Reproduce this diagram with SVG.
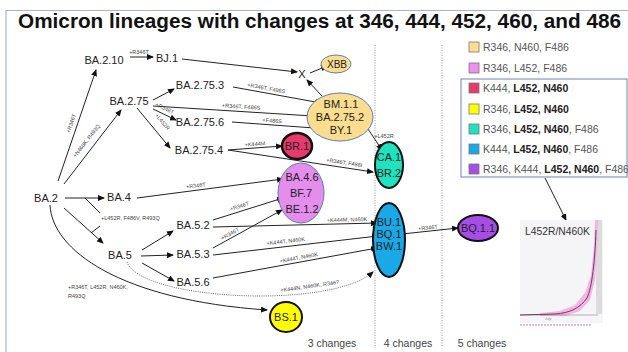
<svg xmlns="http://www.w3.org/2000/svg" width="628" height="352" viewBox="0 0 628 352">
<defs>
<marker id="ah" markerWidth="7" markerHeight="6" refX="6" refY="3" orient="auto" markerUnits="userSpaceOnUse">
<path d="M0,0 L7,3 L0,6 z" fill="#111"/>
</marker>
<style>
.n{font-family:"Liberation Sans",Arial,sans-serif;font-size:11px;fill:#222;text-anchor:middle}
.e{font-family:"Liberation Sans",Arial,sans-serif;font-size:5.5px;fill:#444;text-anchor:middle}
.l{font-family:"Liberation Sans",Arial,sans-serif;font-size:10.5px;fill:#555}
.l tspan.b{font-weight:bold;fill:#222}
.c{stroke:#222;stroke-width:1;fill:none}
.a{marker-end:url(#ah)}
.dv{stroke:#999;stroke-width:1;stroke-dasharray:1,1.5;fill:none}
.sw{stroke:#777;stroke-width:0.8}
.bottom{font-family:"Liberation Sans",Arial,sans-serif;font-size:10.5px;fill:#444;text-anchor:middle}
</style>
</defs>
<rect width="628" height="352" fill="#fff"/>
<path d="M6,352 V10.5 H628" fill="none" stroke="#A9B4CC" stroke-width="1.2"/>
<text x="18" y="28" font-family="Liberation Sans,Arial,sans-serif" font-size="19.5" font-weight="bold" fill="#111" textLength="603" lengthAdjust="spacingAndGlyphs">Omicron lineages with changes at 346, 444, 452, 460, and 486</text>

<g id="separators">
<line class="dv" x1="375" y1="45" x2="375" y2="348"/>
<line class="dv" x1="442" y1="45" x2="442" y2="346"/>
</g>

<g id="connectors">
<line class="c a" x1="58" y1="181" x2="96" y2="70"/>
<text class="e" transform="translate(73,124) rotate(-71)">+R346T</text>
<line class="c a" x1="64" y1="184" x2="121" y2="110"/>
<text class="e" transform="translate(88,142) rotate(-52)">+N460K, R493Q</text>
<line class="c a" x1="130" y1="57" x2="153" y2="57"/>
<text class="e" x="139" y="54">+R346T</text>
<line class="c a" x1="182" y1="59" x2="297" y2="72"/>
<line class="c a" x1="153" y1="100" x2="174" y2="89"/>
<line class="c a" x1="153" y1="106" x2="313" y2="116"/>
<text class="e" transform="translate(241,108.5) rotate(3.6)">+R346T, F486S</text>
<line class="c a" x1="153" y1="109" x2="176" y2="120"/>
<text class="e" transform="translate(164,110) rotate(25.6)">+R346T</text>
<line class="c a" x1="137" y1="108" x2="170" y2="148"/>
<text class="e" transform="translate(161,123) rotate(50.5)">+L452R</text>
<line class="c a" x1="233" y1="87" x2="321" y2="103"/>
<text class="e" transform="translate(266,90) rotate(10.3)">+R346T, F486S</text>
<line class="c a" x1="232" y1="122" x2="328" y2="129"/>
<text class="e" transform="translate(272,122.5) rotate(4.2)">+F486S</text>
<line class="c a" x1="228" y1="150" x2="282" y2="146"/>
<text class="e" transform="translate(255,146) rotate(-4)">+K444M</text>
<line class="c a" x1="228" y1="150" x2="373" y2="172"/>
<text class="e" transform="translate(344,164.5) rotate(8.6)">+R346T, F486I</text>
<line class="c a" x1="362" y1="120" x2="382" y2="150"/>
<text class="e" x="384" y="138">+L452R</text>
<line class="c a" x1="322" y1="96" x2="307" y2="80"/>
<line class="c a" x1="310" y1="73" x2="327" y2="66"/>
<line class="c a" x1="65" y1="198" x2="104" y2="198"/>
<line class="c a" x1="64" y1="208" x2="103" y2="243"/>
<path class="c" d="M85,198 L100,213 M91,233 L100,226"/>
<text class="e" x="101" y="220" style="text-anchor:start">+L452R, F486V, R493Q</text>
<line class="c a" x1="137" y1="198" x2="283" y2="179"/>
<text class="e" transform="translate(196,187.5) rotate(-7.4)">+R346T</text>
<line class="c a" x1="142" y1="250" x2="173" y2="231"/>
<line class="c a" x1="141" y1="256" x2="173" y2="255"/>
<line class="c a" x1="142" y1="263" x2="174" y2="281"/>
<line class="c a" x1="213" y1="220" x2="283" y2="198"/>
<text class="e" transform="translate(240,208) rotate(-17.4)">+R346T</text>
<line class="c a" x1="213" y1="227" x2="377" y2="223"/>
<text class="e" transform="translate(347,221.5) rotate(-1.4)">+K444M, N460K</text>
<line class="c a" x1="213" y1="248" x2="282" y2="210"/>
<text class="e" transform="translate(231,235.5) rotate(-28.8)">+R346T</text>
<line class="c a" x1="213" y1="255" x2="378" y2="236"/>
<text class="e" transform="translate(286,243) rotate(-6.6)">+K444T, N460K</text>
<line class="c a" x1="213" y1="278" x2="377" y2="248"/>
<text class="e" transform="translate(299,259.5) rotate(-10.4)">+K444T, N460K</text>
<path class="a" d="M127,262 C140,300 330,310 373,272" fill="none" stroke="#555" stroke-width="0.9" stroke-dasharray="1,1.2"/>
<text class="e" transform="translate(310,288) rotate(-8)">+K444N, N460K, R346?</text>
<path class="c a" d="M50,205 C52,250 120,300 267,310"/>
<text class="e" x="68" y="289" style="text-anchor:start">+R346T, L452R, N460K,</text>
<text class="e" x="68" y="298" style="text-anchor:start">R493Q</text>
<line class="c a" x1="402" y1="234" x2="458" y2="228"/>
<text class="e" transform="translate(428,229.5) rotate(-6)">+R346T</text>
<line class="c a" x1="545" y1="178" x2="566" y2="220"/>
</g>

<g id="BA.2.10"><text class="n" x="104" y="64">BA.2.10</text></g>
<g id="BJ.1"><text class="n" x="167" y="62">BJ.1</text></g>
<g id="BA.2.75"><text class="n" x="129" y="105">BA.2.75</text></g>
<g id="BA.2.75.3"><text class="n" x="200" y="89">BA.2.75.3</text></g>
<g id="BA.2.75.6"><text class="n" x="200" y="126">BA.2.75.6</text></g>
<g id="BA.2.75.4"><text class="n" x="199" y="154">BA.2.75.4</text></g>
<g id="X"><text class="n" x="302" y="78">X</text></g>
<g id="XBB"><ellipse cx="336" cy="64" rx="15" ry="9" fill="#FADD8E" stroke="#5B7DB8" stroke-width="1"/><text class="n" x="337" y="67.5" style="font-size:10px">XBB</text></g>
<g id="BM.1.1"><ellipse cx="340" cy="117" rx="33" ry="24" fill="#FADD8E" stroke="#5B7DB8" stroke-width="1"/>
<text class="n" x="341" y="108">BM.1.1</text><text class="n" x="340" y="121">BA.2.75.2</text><text class="n" x="341" y="134">BY.1</text></g>
<g id="BR.1"><ellipse cx="297" cy="146" rx="15" ry="13" fill="#E8396D" stroke="#111" stroke-width="2.5"/><text class="n" x="297" y="150">BR.1</text></g>
<g id="CA.1"><ellipse cx="389" cy="165" rx="14" ry="23" fill="#1DE3BF" stroke="#111" stroke-width="2"/><text class="n" x="389" y="161">CA.1</text><text class="n" x="389" y="177">BR.2</text></g>
<g id="BA.2"><text class="n" x="46" y="202">BA.2</text></g>
<g id="BA.4"><text class="n" x="119" y="201">BA.4</text></g>
<g id="BA.4.6"><ellipse cx="301" cy="193" rx="23" ry="30" fill="#E48DEB" stroke="#5B7DB8" stroke-width="1"/>
<text class="n" x="302" y="181">BA.4.6</text><text class="n" x="301" y="197">BF.7</text><text class="n" x="302" y="213">BE.1.2</text></g>
<g id="BA.5"><text class="n" x="120" y="259">BA.5</text></g>
<g id="BA.5.2"><text class="n" x="193" y="229">BA.5.2</text></g>
<g id="BA.5.3"><text class="n" x="193" y="258">BA.5.3</text></g>
<g id="BA.5.6"><text class="n" x="193" y="286">BA.5.6</text></g>
<g id="BU.1"><ellipse cx="389" cy="240" rx="16" ry="37" fill="#1AA8E6" stroke="#111" stroke-width="2"/>
<text class="n" x="389" y="226">BU.1</text><text class="n" x="389" y="238">BQ.1</text><text class="n" x="389" y="250">BW.1</text></g>
<g id="BQ.1.1"><ellipse cx="478" cy="228" rx="20" ry="13" fill="#A64DE8" stroke="#111" stroke-width="2"/><text class="n" x="478" y="232">BQ.1.1</text></g>
<g id="BS.1"><ellipse cx="286" cy="317" rx="16" ry="15" fill="#FFFF00" stroke="#111" stroke-width="2"/><text class="n" x="286" y="321">BS.1</text></g>

<g id="bottom-labels">
<text class="bottom" x="332" y="347">3 changes</text>
<text class="bottom" x="408" y="347">4 changes</text>
<text class="bottom" x="482" y="347">5 changes</text>
</g>

<g id="legend">
<rect x="461" y="79" width="166" height="98" fill="#fff" stroke="#6C84B4" stroke-width="1"/>
<rect class="sw" x="469" y="42" width="10" height="10" fill="#FADD8E"/>
<text class="l" x="483" y="51">R346, N460, F486</text>
<rect class="sw" x="469" y="63" width="10" height="10" fill="#EE90EE"/>
<text class="l" x="483" y="72">R346, L452, F486</text>
<rect class="sw" x="469" y="83" width="10" height="10" fill="#E8396D"/>
<text class="l" x="483" y="92">K444, <tspan class="b">L452, N460</tspan></text>
<rect class="sw" x="469" y="104" width="10" height="10" fill="#FFFF00"/>
<text class="l" x="483" y="113">R346, <tspan class="b">L452, N460</tspan></text>
<rect class="sw" x="469" y="124" width="10" height="10" fill="#1DE3BF"/>
<text class="l" x="483" y="133">R346, <tspan class="b">L452, N460</tspan>, F486</text>
<rect class="sw" x="469" y="144" width="10" height="10" fill="#1AA8E6"/>
<text class="l" x="483" y="153">K444, <tspan class="b">L452, N460</tspan>, F486</text>
<rect class="sw" x="469" y="164" width="10" height="10" fill="#A64DE8"/>
<text class="l" x="483" y="173">R346, K444, <tspan class="b">L452, N460</tspan>, F486</text>
</g>

<g id="chart">
<rect x="520" y="220" width="83" height="103" fill="#F5F5F7"/>
<rect x="596" y="220" width="6" height="94" fill="#DCDCDC"/>
<path d="M540,313 L560,311 L575,305 L585,293 L591,275 L594,245 L595,220 L598,220 L597,250 L595,280 L590,300 L580,311 L565,316 L540,316 Z" fill="#F4B5DF"/>
<line x1="520" y1="315" x2="598" y2="315" stroke="#888" stroke-width="0.6"/>
<path d="M520,315 L555,314 C570,313 580,308 587,298 C592,288 595,260 596,230" fill="none" stroke="#6B3A6B" stroke-width="1"/>
<text x="545" y="320" font-family="Liberation Sans,Arial,sans-serif" font-size="3.5" fill="#888">July</text>
<line x1="520" y1="325" x2="592" y2="325" stroke="#D070B0" stroke-width="1" stroke-dasharray="2,1"/>
<text x="525" y="235" font-family="Liberation Sans,Arial,sans-serif" font-size="10.5" fill="#333" textLength="65" lengthAdjust="spacingAndGlyphs">L452R/N460K</text>
</g>
</svg>
